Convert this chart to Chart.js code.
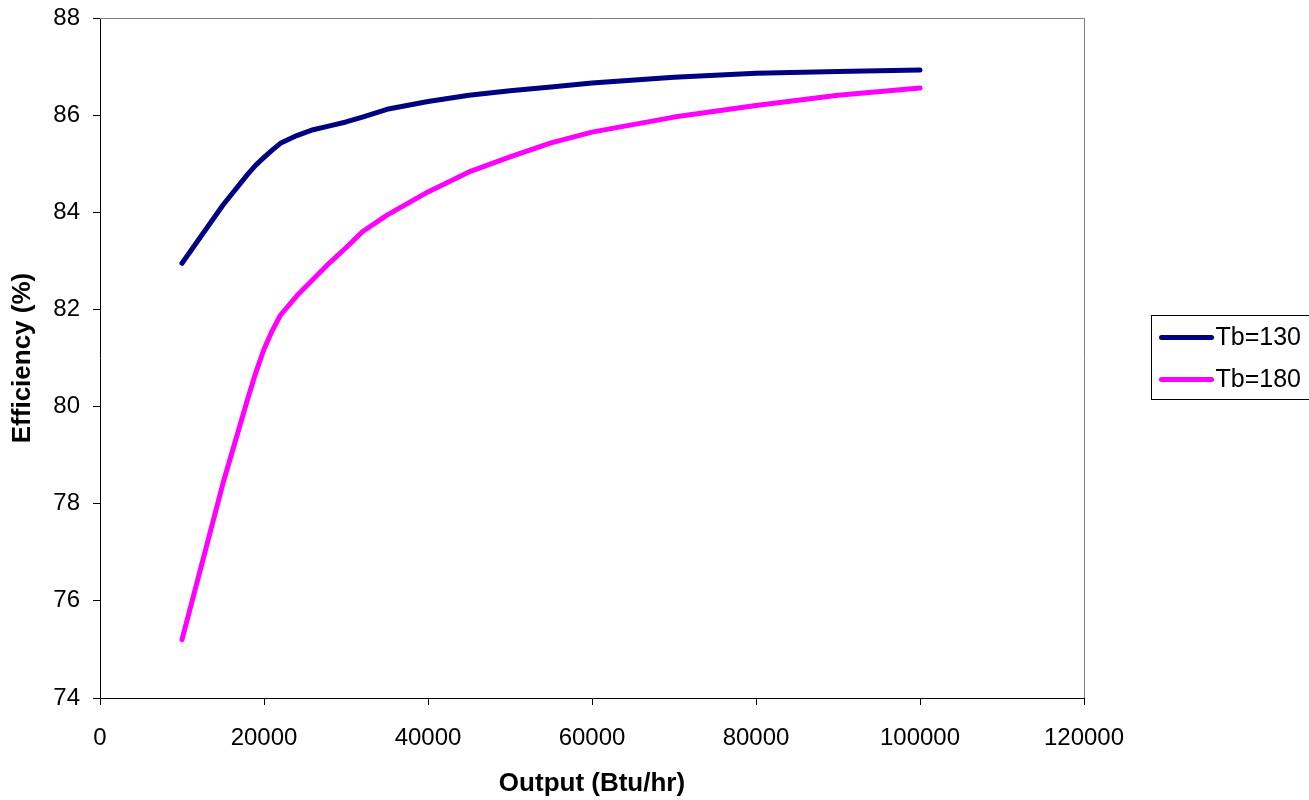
<!DOCTYPE html>
<html>
<head>
<meta charset="utf-8">
<script src="https://cdn.jsdelivr.net/npm/chart.js@4.4.0/dist/chart.umd.min.js"></script>
<style>
  html, body { margin: 0; padding: 0; background: #fff; }
  #wrap { width: 1309px; height: 800px; }
</style>
</head>
<body>
<div id="wrap"><canvas id="canvas" width="1309" height="800"></canvas></div>
<script>
// data
const outputs = [10000, 15000, 18000, 19000, 20000, 21000, 22000, 24000, 26000, 28000, 30000, 32000, 35000, 40000, 45000, 50000, 55000, 60000, 70000, 80000, 90000, 100000];
const eff130  = [82.95, 84.15, 84.78, 84.97, 85.13, 85.28, 85.42, 85.58, 85.70, 85.78, 85.86, 85.96, 86.12, 86.28, 86.41, 86.50, 86.58, 86.66, 86.78, 86.86, 86.90, 86.93];
const eff180  = [75.20, 78.42, 80.15, 80.70, 81.18, 81.56, 81.88, 82.28, 82.62, 82.96, 83.27, 83.60, 83.94, 84.42, 84.83, 85.14, 85.43, 85.65, 85.96, 86.20, 86.41, 86.56];
const seriesNames = ['Tb=130', 'Tb=180'];
const seriesColors = ['#000080', '#FF00FF'];
const xTicks = [0, 20000, 40000, 60000, 80000, 100000, 120000];
const yTicks = [74, 76, 78, 80, 82, 84, 86, 88];

const FONT = 'Liberation Sans, Arial, sans-serif';

function toPoints(ys) {
    return outputs.map(function (x, i) { return { x: x, y: ys[i] }; });
}

// grey frame on top/right and the boxed legend, like the Excel chart
const frameAndLegend = {
    id: 'frameAndLegend',
    afterDraw(chart) {
        const c = chart.ctx;
        const a = chart.chartArea;
        c.save();
        c.strokeStyle = '#808080';
        c.lineWidth = 1;
        c.beginPath();
        c.moveTo(a.left, a.top + 0.5);
        c.lineTo(a.right + 0.5, a.top + 0.5);
        c.lineTo(a.right + 0.5, a.bottom);
        c.stroke();

        // legend
        const bx = 1151.5, by = 315.5, bw = 200, bh = 84;
        c.strokeStyle = '#000';
        c.lineWidth = 1;
        c.strokeRect(bx, by, bw, bh);
        c.font = '25px ' + FONT;
        c.textBaseline = 'middle';
        c.fillStyle = '#000';
        chart.data.datasets.forEach(function (ds, i) {
            const ly = by + 22 + i * 42;
            c.strokeStyle = ds.borderColor;
            c.lineWidth = 5;
            c.lineCap = 'round';
            c.beginPath();
            c.moveTo(bx + 10, ly);
            c.lineTo(bx + 60, ly);
            c.stroke();
            c.fillText(ds.label, bx + 64, ly + 1);
        });
        c.restore();
    }
};

new Chart(document.getElementById('canvas'), {
    type: 'scatter',
    data: {
        datasets: [0, 1].map(function (i) {
            return {
                label: seriesNames[i],
                data: toPoints(i === 0 ? eff130 : eff180),
                showLine: true,
                borderColor: seriesColors[i],
                backgroundColor: seriesColors[i],
                borderWidth: 5,
                pointRadius: 0,
                borderCapStyle: 'round',
                borderJoinStyle: 'round',
                tension: 0
            };
        })
    },
    options: {
        responsive: false,
        animation: false,
        layout: { padding: { top: 18, right: 225, left: 0, bottom: 0 } },
        plugins: {
            legend: { display: false },
            tooltip: { enabled: false }
        },
        scales: {
            x: {
                type: 'linear',
                min: 0,
                max: 120000,
                afterBuildTicks: function (s) { s.ticks = xTicks.map(function (v) { return { value: v }; }); },
                afterFit: function (s) { s.height = 102; s.paddingLeft = 0; },
                ticks: {
                    color: '#000',
                    font: { family: FONT, size: 24 },
                    padding: 19,
                    maxRotation: 0,
                    callback: function (v) { return String(v); }
                },
                grid: { drawOnChartArea: false, drawTicks: true, tickLength: 7, color: '#000' },
                border: { display: true, color: '#000', width: 1 },
                title: {
                    display: true,
                    text: 'Output (Btu/hr)',
                    color: '#000',
                    font: { family: FONT, size: 26, weight: 'bold' },
                    padding: { top: 0, bottom: 1 }
                }
            },
            y: {
                type: 'linear',
                min: 74,
                max: 88,
                afterBuildTicks: function (s) { s.ticks = yTicks.map(function (v) { return { value: v }; }); },
                afterFit: function (s) { s.width = 100; s.paddingTop = 0; s.paddingBottom = 0; },
                ticks: {
                    color: '#000',
                    font: { family: FONT, size: 24 },
                    padding: 13
                },
                grid: { drawOnChartArea: false, drawTicks: true, tickLength: 7, color: '#000' },
                border: { display: true, color: '#000', width: 1 },
                title: {
                    display: true,
                    text: 'Efficiency (%)',
                    color: '#000',
                    font: { family: FONT, size: 26, weight: 'bold' },
                    padding: { top: 7, bottom: 0 }
                }
            }
        }
    },
    plugins: [frameAndLegend]
});
</script>
</body>
</html>
